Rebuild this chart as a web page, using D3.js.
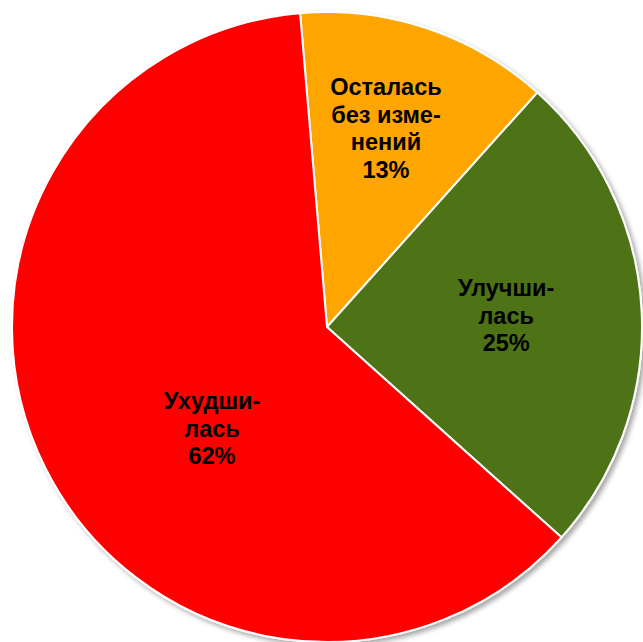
<!DOCTYPE html>
<html>
<head>
<meta charset="utf-8">
<script src="https://cdn.jsdelivr.net/npm/d3@7"></script>
<style>
  body { margin: 0; background: #fff; }
</style>
</head>
<body>
<script>
// données
const categories = ["Осталась без изменений", "Улучшилась", "Ухудшилась"];
const valeurs = [13, 25, 62];
const etiquettes = [
  ["Осталась", "без изме-", "нений"],
  ["Улучши-", "лась"],
  ["Ухудши-", "лась"]
];
const couleurs = ["#FFA500", "#4E7318", "#FF0000"];

const largeur = 643, hauteur = 642;
const cx = 327, cy = 327, rayon = 315;

const svg = d3.select("body").append("svg")
  .attr("width", largeur)
  .attr("height", hauteur);

// ombre portée
const filtre = svg.append("defs").append("filter")
  .attr("id", "ombre")
  .attr("x", "-10%").attr("y", "-10%")
  .attr("width", "120%").attr("height", "120%");
filtre.append("feDropShadow")
  .attr("dx", 3).attr("dy", 3)
  .attr("stdDeviation", 2.5)
  .attr("flood-color", "#000")
  .attr("flood-opacity", 0.35);

const data = categories.map((c, i) => ({ nom: c, valeur: valeurs[i], lignes: etiquettes[i], i: i }));

const pie = d3.pie()
  .sort(null)
  .value(d => d.valeur)
  .startAngle(-4.9 * Math.PI / 180)
  .endAngle((360 - 4.9) * Math.PI / 180);

const arc = d3.arc().innerRadius(0).outerRadius(rayon);

const g = svg.append("g").attr("transform", `translate(${cx},${cy})`);

g.append("g")
  .attr("filter", "url(#ombre)")
  .selectAll("path")
  .data(pie(data))
  .join("path")
  .attr("d", arc)
  .attr("fill", d => couleurs[d.data.i])
  .attr("stroke", "#fff")
  .attr("stroke-width", 2);

// placement des étiquettes (rayon relatif, décalage d'angle en degrés)
const placement = [[0.659, -2], [0.57, -0.6], [0.486, -14.8]];

const tailleLigne = 27.5;
const labels = g.selectAll("text.label")
  .data(pie(data))
  .join("text")
  .attr("class", "label")
  .attr("text-anchor", "middle")
  .style("font-family", "Liberation Sans, Arial, sans-serif")
  .style("font-weight", "bold")
  .style("font-size", "23.5px")
  .attr("fill", "#000")
  .each(function(d) {
    const p = placement[d.data.i];
    const a = (d.startAngle + d.endAngle) / 2 + p[1] * Math.PI / 180;
    const r = rayon * p[0];
    const x = r * Math.sin(a);
    const y = -r * Math.cos(a);
    const lignes = d.data.lignes.concat([Math.round(d.data.valeur) + "%"]);
    const y0 = y - (lignes.length - 1) * tailleLigne / 2 + 8.5;
    d3.select(this).selectAll("tspan")
      .data(lignes)
      .join("tspan")
      .attr("x", x)
      .attr("y", (l, k) => y0 + k * tailleLigne)
      .text(l => l);
  });
</script>
</body>
</html>
